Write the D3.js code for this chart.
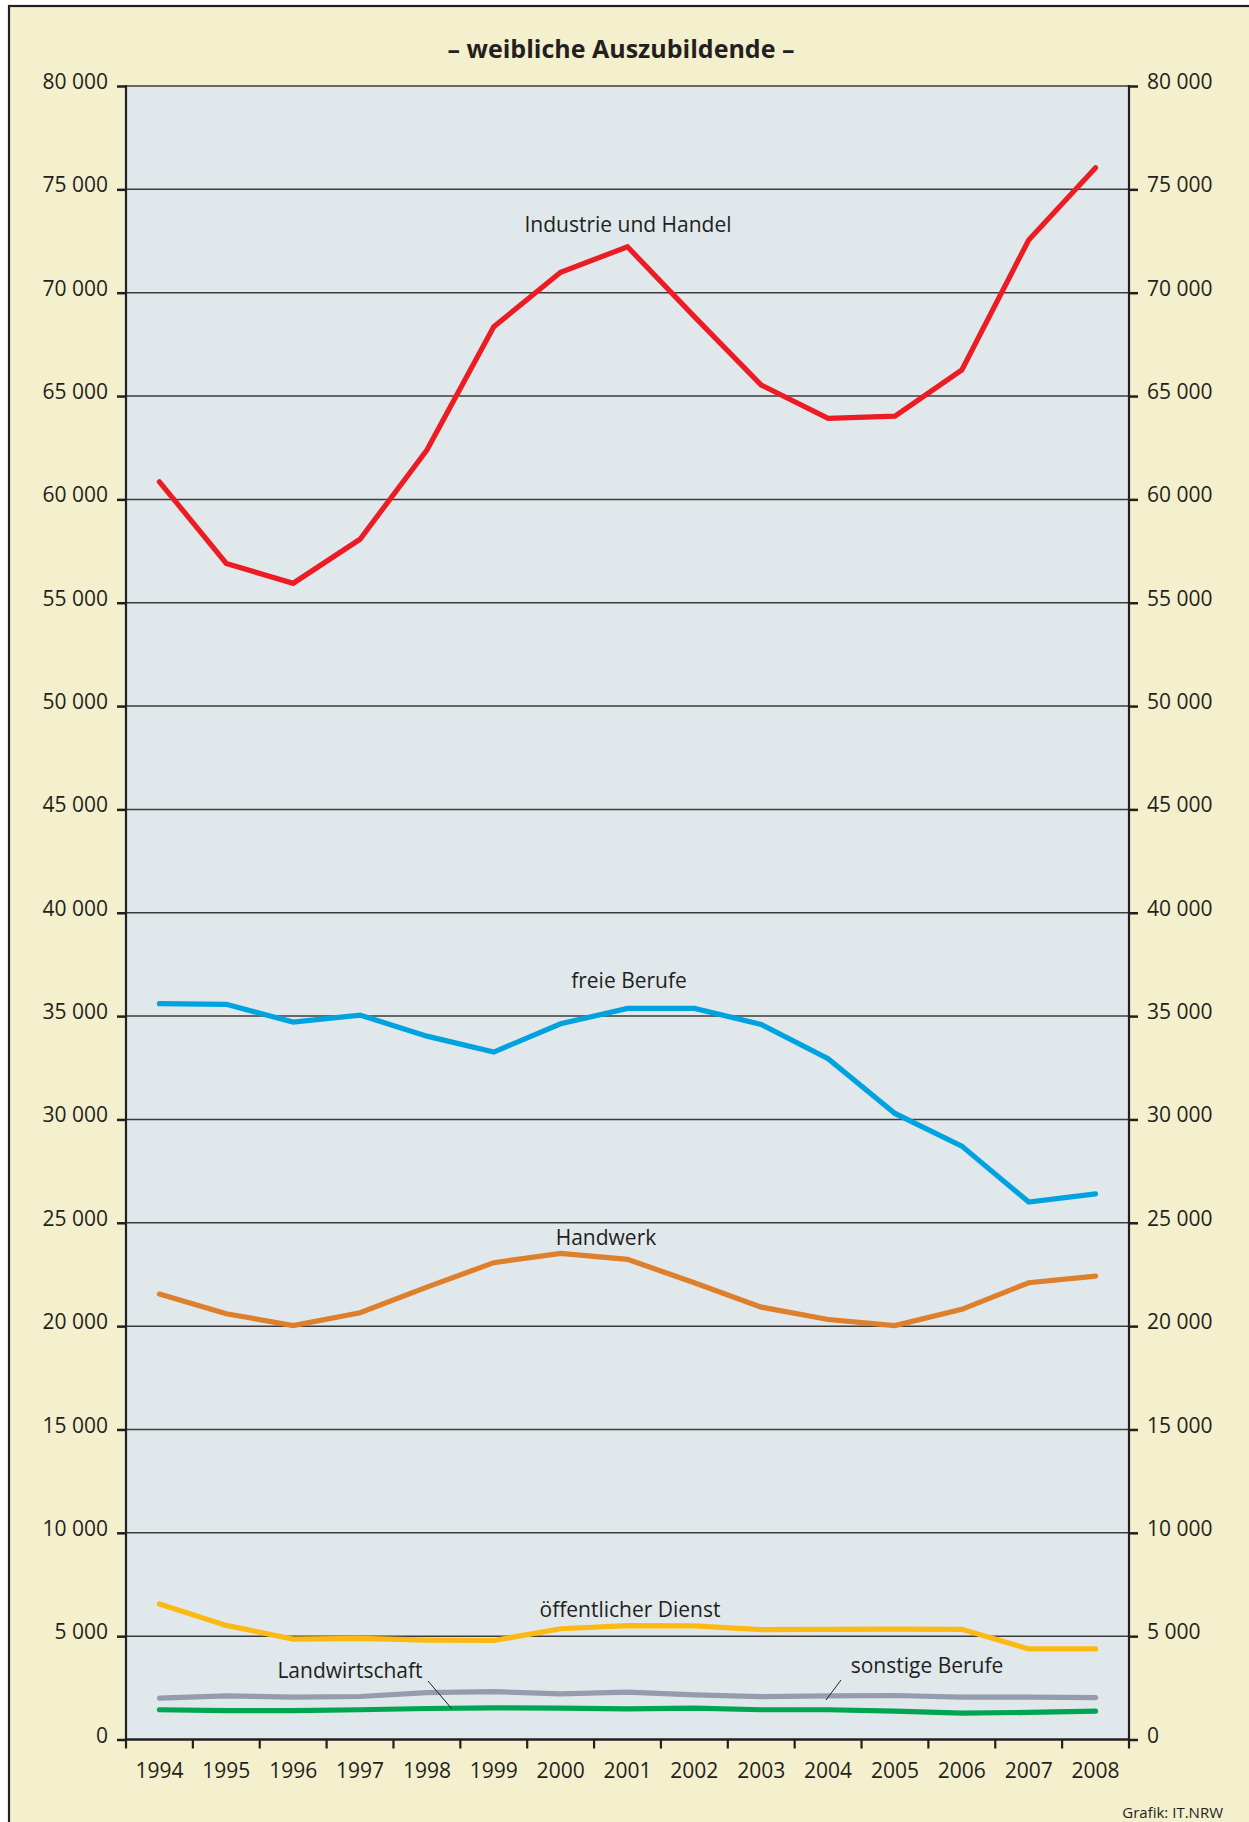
<!DOCTYPE html>
<html><head><meta charset="utf-8">
<script src="https://cdn.jsdelivr.net/npm/d3@7"></script>
<style>
html,body{margin:0;padding:0;background:#fff;}
svg{display:block;}
text{font-family:"Open Sans","Noto Sans",sans-serif;fill:#231f20;}
</style></head>
<body>
<svg id="chart" width="1249" height="1822"></svg>
<script>
const years = ["1994","1995","1996","1997","1998","1999","2000","2001","2002","2003","2004","2005","2006","2007","2008"];
const industrieHandel = [60850,56900,55940,58070,62390,68350,70990,72220,68840,65530,63920,64030,66260,72550,76050];
const freieBerufe = [35600,35570,34710,35050,34030,33260,34630,35370,35370,34600,32940,30290,28710,26000,26400];
const handwerk = [21550,20600,20030,20650,21890,23070,23520,23230,22100,20920,20320,20030,20810,22100,22420];
const oeffentlicherDienst = [6560,5520,4860,4890,4810,4790,5360,5510,5500,5320,5330,5340,5330,4380,4380];
const sonstigeBerufe = [2000,2110,2050,2080,2270,2320,2210,2290,2160,2070,2110,2130,2050,2050,2030];
const landwirtschaft = [1440,1400,1400,1440,1500,1530,1515,1485,1515,1440,1440,1375,1280,1310,1375];
const yTicks = [0,5000,10000,15000,20000,25000,30000,35000,40000,45000,50000,55000,60000,65000,70000,75000,80000];
const titleText = "– weibliche Auszubildende –";
const seriesNames = ["Industrie und Handel","freie Berufe","Handwerk","öffentlicher Dienst","sonstige Berufe","Landwirtschaft"];
const seriesColors = ["#ec1c24","#00a3e0","#dd7f2b","#fdb913","#959cad","#00a551"];

const svg = d3.select("#chart");
const L = 126, R = 1129, T = 86, B = 1739.5;

// frame
svg.append("rect").attr("x",9).attr("y",6).attr("width",1260).attr("height",1830)
  .attr("fill","#f4efcd").attr("stroke","#231f20").attr("stroke-width",2.2);
svg.append("rect").attr("x",L).attr("y",T).attr("width",R-L).attr("height",B-T).attr("fill","#e0e8eb");

const x = d3.scaleBand().domain(years).range([L,R]).paddingInner(0).paddingOuter(0);
const xi = d3.scaleLinear().domain([0,years.length]).range([L,R]);
const y = d3.scaleLinear().domain([0,80000]).range([B,T]);
const fmt = v => v === 0 ? "0" : d3.format(",")(v).replace(/,/g," ");
const FF = '"Open Sans","Noto Sans",sans-serif';

// gridlines
svg.append("g").selectAll("line").data(yTicks.filter(v=>v>0)).join("line")
  .attr("x1",L).attr("x2",R).attr("y1",d=>y(d)).attr("y2",d=>y(d))
  .attr("stroke","#3c3c3c").attr("stroke-width",1.5);

// left axis
const gl = svg.append("g").attr("transform",`translate(${L},0)`)
  .call(d3.axisLeft(y).tickValues(yTicks).tickSize(9).tickPadding(9).tickFormat(fmt));
gl.select(".domain").remove();
gl.selectAll(".tick line").attr("stroke","#231f20").attr("stroke-width",2.5);
gl.selectAll(".tick text").attr("font-size",21).attr("fill","#231f20").attr("dy","0.12em")
  .style("font-family",FF);
// right axis
const gr = svg.append("g").attr("transform",`translate(${R},0)`)
  .call(d3.axisRight(y).tickValues(yTicks).tickSize(9).tickPadding(9).tickFormat(fmt));
gr.select(".domain").remove();
gr.selectAll(".tick line").attr("stroke","#231f20").attr("stroke-width",2.5);
gr.selectAll(".tick text").attr("font-size",21).attr("fill","#231f20").attr("dy","0.12em")
  .style("font-family",FF);

// axis lines
svg.append("line").attr("x1",L).attr("x2",L).attr("y1",T-1).attr("y2",B+1).attr("stroke","#231f20").attr("stroke-width",2.2);
svg.append("line").attr("x1",R).attr("x2",R).attr("y1",T-1).attr("y2",B+1).attr("stroke","#231f20").attr("stroke-width",2.2);
svg.append("line").attr("x1",L-1).attr("x2",R+1).attr("y1",B).attr("y2",B).attr("stroke","#231f20").attr("stroke-width",2.5);

// bottom tick marks at band boundaries
svg.append("g").selectAll("line").data(d3.range(years.length+1)).join("line")
  .attr("x1",d=>xi(d)).attr("x2",d=>xi(d)).attr("y1",B).attr("y2",B+9)
  .attr("stroke","#231f20").attr("stroke-width",2.2);
// year labels
const gb = svg.append("g").attr("transform",`translate(0,${B})`)
  .call(d3.axisBottom(x).tickSize(0).tickPadding(24));
gb.select(".domain").remove();
gb.selectAll(".tick text").attr("font-size",21).attr("fill","#231f20")
  .style("font-family",FF);

// lines
const data = [industrieHandel,freieBerufe,handwerk,oeffentlicherDienst,sonstigeBerufe,landwirtschaft];
const line = d3.line().x((d,i)=>x(years[i])+x.bandwidth()/2).y(d=>y(d));
const drawOrder = [4,5,3,2,1,0];
drawOrder.forEach(k=>{
  svg.append("path").datum(data[k]).attr("d",line).attr("fill","none")
    .attr("stroke",seriesColors[k]).attr("stroke-width",5.2)
    .attr("stroke-linejoin","miter").attr("stroke-linecap","round");
});

// series labels
const labelPos = [[628,232],[629,988],[606,1245],[630,1617],[927,1673],[350,1678]];
seriesNames.forEach((n,k)=>{
  svg.append("text").attr("x",labelPos[k][0]).attr("y",labelPos[k][1])
    .attr("text-anchor","middle").attr("font-size",21).text(n);
});
// leader lines
svg.append("line").attr("x1",428).attr("y1",1681).attr("x2",452).attr("y2",1709).attr("stroke","#231f20").attr("stroke-width",1);
svg.append("line").attr("x1",841).attr("y1",1680).attr("x2",826).attr("y2",1700).attr("stroke","#231f20").attr("stroke-width",1);

// title
svg.append("text").attr("x",621).attr("y",58).attr("text-anchor","middle")
  .attr("font-size",25).attr("font-weight","bold").text(titleText);
// source
svg.append("text").attr("x",1223).attr("y",1818).attr("text-anchor","end")
  .attr("font-size",15).text("Grafik: IT.NRW");
</script>
</body></html>
